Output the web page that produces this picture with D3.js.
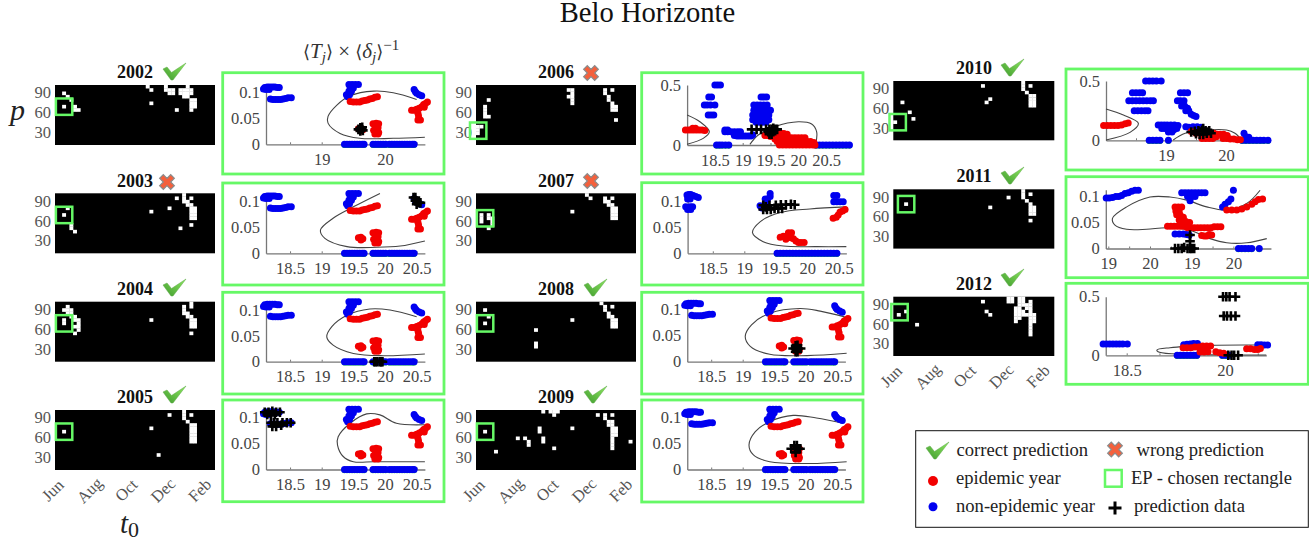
<!DOCTYPE html>
<html><head><meta charset="utf-8">
<style>
html,body{margin:0;padding:0;background:#fff}
svg{display:block}
text{font-family:"Liberation Serif",serif}
</style>
<script src="https://cdn.jsdelivr.net/npm/d3@7"></script>
</head><body>
<svg id="c" width="1309" height="542"></svg>
<script>
// ---- heat-map cells: [row, col, col, ...] white cells
const heat2002=[[0,25,30,36],[1,26,30,31,32,34,35,36,37],[2,2,31,32,34,35,36,37],[3,3,35,36],[4,4,37,38],[5,26,37,38],[6,2,5,37,38],[7,5,6,33,37]];
const heat2003=[[0,35],[1,33,35,37],[2,35,36],[3,36,37],[4,3,31,37,38],[5,26,37,38],[6,2,37,38],[7,37,38],[9,4,37],[10,4,34],[11,5]];
const heat2004=[[0,37],[1,3,35,37],[2,2,3,4,35],[3,3,4,35,36],[4,4,5,36,37],[5,2,5,6,26,37,38],[6,2,6,37,38],[7,5,6,37,38],[8,6],[9,5,37]];
const heat2005=[[0,35],[1,31,35,37],[2,35],[3,36],[4,37,38],[5,26,37,38],[6,2,37,38],[7,37,38],[8,37,38],[9,37,38],[13,28]];
const heat2006=[[1,25,26,35,37],[2,26,35],[3,25,26,36],[4,3,26,36],[5,26,37],[6,2,37,38],[7,2,37,38],[8,2],[9,2,3],[10,38],[12,0,1],[13,0],[14,0]];
const heat2007=[[0,30],[1,31,35,37],[2,35,36],[3,36,37],[4,37,38],[5,26,37,38],[6,1,3,37,38],[7,1,3,4,37,38],[8,1,4],[9,4],[10,3]];
const heat2008=[[0,34],[1,35,37],[2,2,35],[3,36],[4,3,36,37],[5,26,37,38],[6,2,37,38],[7,37,38],[8,16],[12,16],[13,16]];
const heat2009=[[0,18,20,21,22],[1,21,33,35,37],[2,35],[3,36,37],[4,36,37],[5,17,26,37,38],[6,2,17,37,38],[7,37,38],[8,11,13,18,37],[9,14,18,37,42],[10,14,37],[11,21,37],[12,5]];
const heat2010=[[0,35],[1,24,35,37],[2,35],[3,36],[4,37,38],[5,26,37,38],[6,2,25,37,38],[7,37,38],[9,4],[11,5],[12,0]];
const heat2011=[[0,35],[1,35,37],[2,31,35],[3,36],[4,3,37],[5,26,37,38],[6,37,38],[7,37,38],[9,37]];
const heat2012=[[0,31,32,34,35],[1,24,31,32,34,35,37],[2,34,35,36,37],[3,33,34,36,37],[4,3,25,33,34,35,37],[5,1,26,33,34,35,36,37,38],[6,33,34,37,38],[7,33,37,38],[8,6,37],[9,37],[10,37],[11,37]];

// ---- chosen rectangle centres [col, row]
const chosen={2002:[2,6],2003:[2,6],2004:[2,6],2005:[2,6],2006:[0.1,13.2],2007:[2,7],2008:[2,6],2009:[2,6],2010:[0.7,12],2011:[3,4],2012:[1.2,4.2]};

// ---- outcome per year
const outcome={2002:"ok",2003:"no",2004:"ok",2005:"ok",2006:"no",2007:"no",2008:"ok",2009:"ok",2010:"ok",2011:"ok",2012:"ok"};

// ---- shared scatter data used for most years
const nonEpidemicBase=[[18.08,.107],[18.1,.11],[18.14,.111],[18.18,.111],[18.22,.111],[18.26,.111],[18.3,.11],[18.33,.11],[18.12,.106],[18.17,.106],
 [18.19,.088],[18.23,.087],[18.27,.087],[18.31,.087],[18.35,.087],[18.39,.088],[18.43,.089],[18.47,.09],[18.52,.09],
 [19.43,.116],[19.48,.116],[19.53,.116],[19.58,.116],[19.45,.109],[19.5,.109],[19.43,.103],[19.47,.103],[19.39,.096],[19.44,.096],[19.41,.092],
 [20.46,.106],[20.48,.102],[20.5,.099],[20.54,.096],[20.58,.094],
 [19.36,0],[19.4,0],[19.44,0],[19.48,0],[19.52,0],[19.56,0],[19.6,0],[19.64,0],[19.67,0],
 [19.81,0],[19.85,0],[19.89,0],[19.93,0],[19.97,0],[20.01,0],
 [20.07,0],[20.11,0],[20.15,0],[20.19,0],[20.23,0],[20.27,0],[20.31,0],[20.35,0],[20.39,0],[20.43,0],[20.46,0]];
const epidemicBase=[[19.45,.083],[19.5,.082],[19.55,.082],[19.6,.082],[19.64,.084],[19.68,.085],[19.72,.086],[19.76,.088],[19.8,.089],[19.84,.091],[19.88,.092],
 [19.58,.03],[19.62,.031],[19.62,.026],[19.65,.028],
 [19.81,.04],[19.86,.041],[19.9,.04],[19.85,.034],[19.89,.032],[19.82,.027],[19.86,.024],[19.9,.023],[19.84,.02],[19.89,.02],
 [20.42,.066],[20.46,.066],[20.5,.068],[20.54,.07],[20.58,.073],[20.61,.077],[20.64,.079],[20.67,.082],[20.62,.072],[20.52,.06],[20.53,.055],[20.52,.047],[20.56,.047]];

// ---- 2006
const nonEpidemic2006=[[18.5,.5],[18.55,.5],[18.6,.5],[18.39,.4],[18.44,.4],[18.31,.334],[18.36,.334],[18.42,.334],[18.5,.334],[18.38,.25],[18.43,.25],[18.48,.25],
 [18.53,0],[18.58,0],[18.63,0],[18.69,0],[18.75,0],
 [18.68,.125],[18.73,.125],[18.68,.11],[18.73,.11],[18.79,.11],[18.85,.11],[18.91,.11],[18.96,.11],[18.85,.08],[18.9,.075],[18.95,.075],[19,.075],[19.05,.075],[19.1,.075],[19.15,.075],[19.18,.085],
 [19.33,.4],[19.38,.4],[19.43,.4],[19.2,.334],[19.26,.334],[19.32,.334],[19.38,.334],[19.44,.334],[19.2,.29],[19.26,.29],[19.32,.29],[19.38,.29],[19.44,.29],[19.5,.29],
 [19.18,.25],[19.24,.25],[19.3,.25],[19.36,.25],[19.42,.25],[19.47,.25],[19.18,.21],[19.24,.21],[19.3,.21],[19.36,.21],[19.42,.21],[19.47,.21],[19.24,.19],[19.3,.19],[19.36,.19],[19.42,.19],
 [20.32,0],[20.38,0],[20.44,0],[20.5,0],[20.56,0],[20.62,0],[20.68,0],[20.74,0],[20.8,0],[20.86,0],[20.92,0]];
const epidemic2006=[[17.97,.125],[18.02,.125],[18.07,.125],[18.12,.125],[18.17,.125],[18.22,.125],[18.27,.125],[18.32,.12],[18.1,.14],[18.15,.14],
 [19.4,.08],[19.45,.08],[19.5,.07],[19.55,.09],[19.62,.09],[19.68,.1],[19.74,.095],[19.8,.09],
 [19.58,.05],[19.64,.06],[19.7,.06],[19.76,.06],[19.82,.06],[19.88,.06],[19.94,.06],[20,.06],[20.06,.06],[20.12,.06],
 [19.62,.03],[19.68,.03],[19.74,.03],[19.8,.03],[19.86,.03],[19.92,.03],[19.98,.03],[20.04,.03],[20.1,.03],[20.16,.03],[20.22,.03],[20.28,.02],
 [19.66,0],[19.72,0],[19.78,0],[19.84,0],[19.9,0],[19.96,0],[20.02,0],[20.08,0],[20.14,0],[20.2,0],[20.26,0],[20.3,0]];
const predict2006=[[19.16,.13],[19.25,.13],[19.33,.13],[19.42,.13],[19.48,.13],[19.52,.13],[19.58,.13],[19.62,.13],[19.46,.11],[19.5,.11],[19.55,.11],[19.48,.09],[19.52,.09],[19.55,.14]];

// ---- 2007
const nonEpidemic2007=[[18.09,.113],[18.12,.114],[18.15,.114],[18.19,.112],[18.23,.11],[18.27,.108],[18.1,.105],[18.14,.105],[18.07,.09],[18.1,.089],[18.14,.09],[18.18,.09],[18.1,.085],[18.15,.085],
 [19.41,.116],[19.41,.11],[19.33,.105],[19.37,.105],[19.35,.1],[19.25,.092],[19.28,.088],
 [20.42,.112],[20.47,.112],[20.42,.1],[20.47,.1],[20.52,.1],[20.57,.1],
 [19.52,0],[19.57,0],[19.62,0],[19.67,0],[19.72,0],[19.77,0],[19.82,0],[19.87,0],[19.92,0],[19.97,0],[20.02,0],[20.07,0],[20.12,0],[20.17,0],[20.22,0],[20.27,0],[20.32,0],[20.37,0],[20.42,0],[20.47,0]];
const epidemic2007=[[20.41,.068],[20.46,.07],[20.49,.074],[20.52,.08],[20.56,.082],[20.6,.085],[19.57,.031],[19.62,.033],[19.66,.032],[19.66,.027],[19.7,.04],[19.75,.04],[19.7,.033],[19.74,.03],[19.78,.028],[19.82,.024],[19.86,.021],[19.9,.021],[19.95,.021]];
const predict2007=[[19.3,.093],[19.4,.093],[19.5,.093],[19.58,.094],[19.66,.094],[19.74,.095],[19.8,.094],[19.3,.085],[19.36,.085],[19.42,.085],[19.48,.087],[19.54,.087],[19.6,.087],[19.34,.09]];

// ---- 2010
const nonEpidemic2010=[[18.66,.5],[18.72,.5],[18.78,.5],[18.84,.5],[18.92,.5],[18.44,.4],[18.5,.4],[18.56,.4],[18.61,.4],[18.38,.334],[18.44,.334],[18.5,.334],[18.56,.334],[18.62,.334],[18.68,.334],[18.74,.334],[18.79,.334],
 [18.47,.25],[18.53,.25],[18.59,.25],[18.65,.25],[18.7,.25],[18.72,0],[18.78,0],[18.84,0],[18.9,0],[19.04,0],
 [18.87,.13],[18.92,.13],[18.97,.13],[19.02,.13],[19.08,.13],[19.14,.13],[19.2,.125],[18.93,.1],[18.98,.1],[19.03,.1],[19.08,.09],[19.13,.09],[19.18,.1],[19.04,.07],[19.1,.07],
 [19.24,.4],[19.3,.4],[19.36,.4],[19.19,.334],[19.24,.334],[19.3,.334],[19.26,.29],[19.31,.29],[19.36,.27],[19.33,.25],[19.38,.25],[19.42,.22],[19.46,.21],[19.5,.2],
 [19.33,.115],[19.38,.11],[19.45,.115],[19.52,.115],[19.58,.11],[19.6,.09],
 [20.3,.06],[20.33,.03],[20.38,.025],[20.27,0],[20.33,0],[20.39,0],[20.45,0],[20.51,0],[20.57,0],[20.63,0],[20.7,0]];
const epidemic2010=[[17.96,.125],[18.02,.125],[18.08,.125],[18.14,.125],[18.2,.125],[18.26,.13],[18.32,.14],[18.37,.145],
 [19.42,.075],[19.5,.06],[19.62,.05],[19.68,.04],[19.74,.05],[19.8,.06],[19.86,.05],[19.9,.05],[19.96,.05],[20.02,.04],
 [19.6,.015],[19.66,.015],[19.72,.015],[19.78,.015],[19.84,.03],[19.95,.015],[20.01,.015],[20.07,.01],[20.13,.01],[20.19,.005],[20.24,.005]];
const predict2010=[[19.42,.07],[19.48,.075],[19.54,.08],[19.6,.085],[19.66,.08],[19.72,.08],[19.5,.055],[19.56,.05],[19.62,.05],[19.68,.06],[19.75,.06],[19.62,.1]];

// ---- 2011 (the x axis has repeating labels)
const nonEpidemic2011=[[18.95,.097],[19.02,.097],[19.1,.098],[19.18,.1],[19.25,.1],[19.32,.102],[19.4,.106],[19.48,.107],[19.56,.11],[19.64,.112],[19.72,.112],
 [20.76,.107],[20.84,.107],[20.92,.107],[21,.107],[21.08,.107],[21.16,.107],[21.24,.107],[21.32,.107],[20.9,.1],[21,.1],[21.08,.1],[20.96,.092],
 [22,.112],[21.94,.095],[21.88,.09],[21.8,.085],[21.74,.08],
 [20.6,.028],[20.7,.028],[20.8,.028],[20.88,.027],[20.94,.026],
 [22.12,0],[22.2,0],[22.28,0],[22.36,0],[22.44,0],[22.62,0]];
const epidemic2011=[[21.84,.074],[21.96,.074],[22.08,.074],[22.2,.076],[22.32,.08],[22.44,.085],[22.52,.09],[22.6,.094],[22.7,.095],
 [20.6,.08],[20.68,.08],[20.76,.08],[20.62,.072],[20.7,.072],[20.64,.065],[20.72,.065],[20.8,.06],[20.7,.055],[20.78,.052],[20.86,.052],[20.95,.05],
 [20.42,.043],[20.5,.043],[20.58,.043],[20.66,.043],[20.74,.043],[20.82,.043],[20.9,.04],[20.98,.04],[21.06,.04],[21.14,.04],[21.22,.04],[21.3,.04],[21.38,.04],[21.46,.04],[21.54,.042],[21.62,.042],[21.7,.042],
 [21.24,.025],[21.3,.024],[21.36,.024],[21.42,.027],[21.48,.026]];
const predict2011=[[20.6,0],[20.68,0],[20.76,0],[20.82,.002],[20.9,0],[20.96,0],[21,0],[21.06,0],[20.96,.014],[20.96,.026]];

// ---- 2012
const nonEpidemic2012=[[18.14,.097],[18.19,.097],[18.24,.097],[18.29,.097],[18.34,.097],[18.39,.097],[18.44,.097],[18.51,.097],
 [19.37,.09],[19.42,.094],[19.47,.097],[19.52,.1],[19.58,.1],[19.27,0],[19.32,0],[19.37,0],[19.42,0],[19.47,0],[19.52,0],[19.57,0],[19.96,0],[20.01,0],[20.06,0],
 [20.5,.09],[20.55,.09],[20.6,.088],[20.65,.088]];
const epidemic2012=[[19.36,.065],[19.42,.065],[19.48,.065],[19.54,.07],[19.6,.07],[19.66,.08],[19.72,.08],[19.78,.08],[19.62,.05],[19.68,.05],[19.62,.028],[19.68,.028],[19.74,.03],[19.86,.03],[19.92,.022],[19.98,.018],
 [20.33,.055],[20.39,.055],[20.45,.05],[20.5,.05],[20.54,.058]];
const predict2012=[[19.97,.5],[20.02,.5],[20.07,.5],[20.16,.5],[19.98,.335],[20.03,.335],[20.09,.335],[20.16,.335],[20.05,0],[20.1,0],[20.14,0],[20.2,0]];

// ---- held-out prediction data
const predict2002=[[19.58,.029],[19.61,.032],[19.63,.03],[19.65,.027],[19.61,.026],[19.64,.033]];
const predict2003=[[20.45,.108],[20.48,.108],[20.48,.102],[20.51,.1],[20.54,.098],[20.56,.098],[20.5,.095]];
const predict2004=[[19.83,0],[19.85,0],[19.88,0],[19.92,0],[19.94,0],[19.96,0]];
const predict2005=[[18.1,.11],[18.16,.11],[18.22,.112],[18.28,.11],[18.34,.11],[18.14,.106],[18.2,.104],[18.26,.106],
 [18.2,.09],[18.25,.09],[18.3,.09],[18.38,.09],[18.45,.09],[18.51,.09],[18.22,.083],[18.28,.083],[18.36,.085]];
const predict2008=[[19.8,.025],[19.84,.025],[19.88,.025],[19.92,.025],[19.84,.03],[19.87,.031],[19.84,.019],[19.87,.019]];
const predict2009=[[19.77,.04],[19.83,.04],[19.88,.04],[19.91,.04],[19.82,.046],[19.86,.046],[19.84,.033]];

// ---- decision boundary curves, as [x, y]
const boundary2002=[[[20.63,.0136],[20.13,.0116],[19.6,.0116],[19.29,.021],[19.1,.041],[19.1,.054],[19.24,.076],[19.45,.094],[19.82,.103],[20.13,.1],[20.5,.087]]];
const boundary2003=[[[19.92,.116],[19.5,.09],[19.18,.068],[18.98,.045],[19.05,.029],[19.4,.013],[19.87,.0116],[20.24,.014],[20.63,.024]]];
const boundary2004=[[[20.63,.015],[19.97,.0116],[19.5,.016],[19.18,.032],[19.08,.048],[19.16,.068],[19.4,.09],[19.76,.102],[20.08,.1],[20.5,.087]]];
const boundary2005=[[[20.63,.015],[20.24,.015],[19.82,.015],[19.5,.015],[19.34,.025],[19.25,.047],[19.26,.063],[19.45,.089],[19.71,.107],[19.92,.105],[20.18,.089],[20.63,.086]]];
const boundary2006=[[[18,.25],[18.23,.194],[18.4,.11],[18.29,.055],[18,.006]],[[19.13,.005],[19.28,.083],[19.58,.153],[20,.194],[20.24,.175],[20.33,.11],[20.31,0]]];
const boundary2007=[[[20.62,.0129],[20.15,.0129],[19.62,.014],[19.3,.0226],[19.13,.04],[19.25,.061],[19.57,.079],[20.04,.086],[20.62,.09]]];
const boundary2008=[[[20.65,.016],[20.02,.0116],[19.43,.014],[19.12,.029],[19.04,.048],[19.14,.07],[19.43,.092],[19.91,.101],[20.23,.096],[20.62,.085]]];
const boundary2009=[[[20.65,.015],[20.07,.0116],[19.43,.015],[19.17,.028],[19.1,.047],[19.2,.073],[19.43,.092],[19.8,.104],[20.17,.099],[20.6,.089]]];
const boundary2010=[[[18,.264],[18.29,.213],[18.54,.143],[18.4,.067],[18,.003]],[[19.12,.003],[19.32,.059],[19.68,.087],[20.01,.087],[20.15,.059],[20.26,.003]]];
const boundary2011=[[[22.64,.112],[22.32,.0865],[21.84,.074],[21.36,.08],[20.88,.093],[20.48,.099],[20,.099],[19.44,.08],[19.1,.058],[19.16,.045],[19.44,.037],[19.92,.037],[20.4,.04],[20.96,.035],[21.44,.019],[21.84,.011],[22.32,.011],[22.8,.019]]];
const boundary2012=[[[20.63,.003],[20,.003],[19.41,.0085],[19,.026],[18.96,.045],[19.16,.065],[19.77,.085],[20.48,.088]]];

const monthLabels=["Jun","Aug","Oct","Dec","Feb"];

// ---- tick label sets
const xTicksFull=[18.5,19,19.5,20,20.5];
const yTicksSmall=[0,.05,.1];
const yTicksLarge=[0,.5];

const heatsByYear={2002:heat2002,2003:heat2003,2004:heat2004,2005:heat2005,2006:heat2006,2007:heat2007,2008:heat2008,2009:heat2009,2010:heat2010,2011:heat2011,2012:heat2012};

// layout only
const GREEN="#66f866";
const L=[
 {y:2002,hx:55,hy:85,hh:60,px:[222.7,72.7,444,174],ax:[18.12,20.63],x0:[19,321.7],x1:[20,385],ya:[144.3,92.7,.1],n:nonEpidemicBase,e:epidemicBase,p:predict2002,b:boundary2002,tl:[19,20],yl:yTicksSmall,top:.113,lx:135,ly:78,ix:163,iy:63},
 {y:2003,hx:55,hy:193.3,hh:60,px:[222.7,183,444,285],ax:[18.12,20.63],x0:[19,321.7],x1:[20,385],ya:[253.3,201.7,.1],n:nonEpidemicBase,e:epidemicBase,p:predict2003,b:boundary2003,tl:xTicksFull,yl:yTicksSmall,top:.113,lx:135,ly:187,ix:167,iy:182,},
 {y:2004,hx:55,hy:301.7,hh:60,px:[222.7,292.3,444,394],ax:[18.12,20.63],x0:[19,321.7],x1:[20,385],ya:[361.7,310,.1],n:nonEpidemicBase,e:epidemicBase,p:predict2004,b:boundary2004,tl:xTicksFull,yl:yTicksSmall,top:.113,lx:135,ly:295,ix:163,iy:279},
 {y:2005,hx:55,hy:410,hh:60,px:[222.7,400,444,501.7],ax:[18.12,20.63],x0:[19,321.7],x1:[20,385],ya:[469.5,417.5,.1],n:nonEpidemicBase,e:epidemicBase,p:predict2005,b:boundary2005,tl:xTicksFull,yl:yTicksSmall,top:.113,lx:135,ly:403,ix:163,iy:386},
 {y:2006,hx:476,hy:85,hh:60,px:[641.7,72.7,863,174],ax:[18,20.93],x0:[19,742.7],x1:[20,798.3],ya:[145,85,.5],n:nonEpidemic2006,e:epidemic2006,p:predict2006,b:boundary2006,tl:xTicksFull,yl:yTicksLarge,top:.5,lx:556,ly:78,ix:591,iy:73},
 {y:2007,hx:476,hy:193.3,hh:60,px:[641.7,182.7,863,285],ax:[18.1,20.62],x0:[19,744.3],x1:[20,807.3],ya:[253.3,201.7,.1],n:nonEpidemic2007,e:epidemic2007,p:predict2007,b:boundary2007,tl:xTicksFull,yl:yTicksSmall,top:.113,lx:556,ly:187,ix:591,iy:181},
 {y:2008,hx:476,hy:301.7,hh:60,px:[641.7,292.3,863,394],ax:[18.12,20.63],x0:[19,742.7],x1:[20,805.7],ya:[361.7,309,.1],n:nonEpidemicBase,e:epidemicBase,p:predict2008,b:boundary2008,tl:xTicksFull,yl:yTicksSmall,top:.113,lx:556,ly:295,ix:584,iy:279},
 {y:2009,hx:476,hy:410,hh:60,px:[641.7,400,863,502],ax:[18.12,20.63],x0:[19,742.7],x1:[20,805.7],ya:[469.5,417.5,.1],n:nonEpidemicBase,e:epidemicBase,p:predict2009,b:boundary2009,tl:xTicksFull,yl:yTicksSmall,top:.113,lx:556,ly:403,ix:584,iy:386},
 {y:2010,hx:893.3,hy:81,hh:59.3,px:[1066,69,1308.3,170],ax:[18,20.7],x0:[19,1166],x1:[20,1226],ya:[140.3,81,.5],n:nonEpidemic2010,e:epidemic2010,p:predict2010,b:boundary2010,tl:[19,20],yl:yTicksLarge,top:.5,lx:974,ly:74,ix:1001,iy:59},
 {y:2011,hx:893.3,hy:189.3,hh:59.3,px:[1066,176.7,1308.3,277.7],ax:[18.94,22.9],x0:[19,1108.3],x1:[20,1150],ya:[248.5,196.5,.1],n:nonEpidemic2011,e:epidemic2011,p:predict2011,b:boundary2011,tl:[19,20,21,22],xl:["19","20","19","20"],yl:yTicksSmall,top:.113,lx:974,ly:182,ix:1001,iy:167},
 {y:2012,hx:893.3,hy:296.7,hh:59.3,px:[1066,283.3,1308.3,384.3],ax:[18.18,20.63],x0:[18.5,1126.7],x1:[20,1225],ya:[355.3,296.7,.5],n:nonEpidemic2012,e:epidemic2012,p:predict2012,b:boundary2012,tl:[18.5,20],yl:yTicksLarge,top:.5,lx:974,ly:290,ix:1001,iy:269}
];

const svg=d3.select("#c");
const defs=svg.append("defs");
const lg=defs.append("linearGradient").attr("id","chk").attr("x1",0).attr("y1",1).attr("x2",1).attr("y2",0);
lg.append("stop").attr("offset","0%").attr("stop-color","#3f9a2e");
lg.append("stop").attr("offset","100%").attr("stop-color","#8ee860");

const CHECK="M0,6 L4,4 L8.5,9.5 L23,0 L10,17 L8,17 Z";
function drawCheck(g,x,y){g.append("path").attr("d",CHECK).attr("transform",`translate(${x},${y})`).attr("fill","url(#chk)").attr("stroke","#5ea84a").attr("stroke-width",.5);}
const crossPath=d3.symbol().type(d3.symbolCross).size(135)();
function drawCross(g,x,y){g.append("path").attr("d",crossPath).attr("transform",`translate(${x},${y}) rotate(45)`).attr("fill","#f4603c").attr("stroke","#8a8a8a").attr("stroke-width",1.2);}
const PLUS="M-4.8,0H4.8M0,-4.8V4.8";

svg.append("text").attr("x",647.5).attr("y",22).attr("text-anchor","middle").attr("font-size",28.6).attr("fill","#111").text("Belo Horizonte");

const line=d3.line().curve(d3.curveCatmullRom.alpha(.5));

L.forEach(d=>{
  const g=svg.append("g");
  // heatmap
  const hw=d.hx==893.3?161:160;
  const xCell=d3.scaleBand().domain(d3.range(44)).range([d.hx,d.hx+hw]);
  const yCell=d3.scaleBand().domain(d3.range(18)).range([d.hy,d.hy+d.hh]);
  g.append("rect").attr("x",d.hx).attr("y",d.hy).attr("width",hw).attr("height",d.hh).attr("fill","#000");
  const cells=heatsByYear[d.y].flatMap(r=>r.slice(1).map(c=>({c,r:r[0]})));
  g.selectAll(".cell").data(cells).enter().append("rect").attr("x",e=>xCell(e.c)-.15).attr("y",e=>yCell(e.r)-.15).attr("width",xCell.bandwidth()+.3).attr("height",yCell.bandwidth()+.3).attr("fill","#fff");
  // p axis
  const py=d3.scaleLinear().domain([11,101.5]).range([d.hy+d.hh,d.hy]);
  const pa=g.append("g").attr("transform",`translate(${d.hx},0)`).call(d3.axisLeft(py).tickValues([30,60,90]).tickSize(0).tickPadding(4));
  pa.select(".domain").remove();
  pa.selectAll("text").attr("font-size",16.5).attr("fill","#555").attr("font-family","Liberation Serif");
  // chosen rectangle
  const [cc,cr]=chosen[d.y];
  const cw=xCell.step(),ch=yCell.step();
  const bx=d.hx+(cc+.5)*cw, by=d.hy+(cr+.5)*ch;
  g.append("rect").attr("x",bx-8.2).attr("y",by-8.2).attr("width",16.4).attr("height",16.4).attr("fill","none").attr("stroke",GREEN).attr("stroke-width",2.5);
  // year label
  g.append("text").attr("x",d.lx).attr("y",d.ly).attr("text-anchor","middle").attr("font-weight","bold").attr("font-size",18).attr("fill","#111").text(d.y);
  if(outcome[d.y]==="ok") drawCheck(g,d.ix,d.iy); else drawCross(g,d.ix,d.iy);
  // panel frame
  const [a,b,c2,e]=d.px;
  g.append("rect").attr("x",a).attr("y",b).attr("width",c2-a).attr("height",e-b).attr("fill","#fff").attr("stroke",GREEN).attr("stroke-width",2.8);
  // scales
  const xs=d3.scaleLinear().domain([d.x0[0],d.x1[0]]).range([d.x0[1],d.x1[1]]);
  const x=xs.copy().domain(d.ax).range(d.ax.map(xs));
  const ys=d3.scaleLinear().domain([0,d.ya[2]]).range([d.ya[0],d.ya[1]]);
  const y=ys.copy().domain([0,d.top]).range([ys(0),ys(d.top)]);
  // axes
  const labelled=d.tl;
  const allTicks=d3.range(Math.ceil(d.ax[0]*2)/2,d.ax[1],.5);
  const ax=g.append("g").attr("transform",`translate(0,${y(0)})`).call(d3.axisBottom(x).tickValues(allTicks).tickSizeInner(-2).tickSizeOuter(0).tickPadding(9)
     .tickFormat(v=>{const i=labelled.indexOf(v);return i<0?"":(d.xl?d.xl[i]:String(v));}));
  const ay=g.append("g").attr("transform",`translate(${x(d.ax[0])},0)`).call(d3.axisLeft(y).tickValues(d.yl).tickSizeInner(0).tickSizeOuter(0).tickPadding(6).tickFormat(v=>String(v)));
  [ax,ay].forEach(s=>{
    s.select(".domain").attr("stroke","#777").attr("stroke-width",1.3);
    s.selectAll(".tick line").attr("stroke","#777");
    s.selectAll("text").attr("font-size",16.5).attr("fill","#444").attr("font-family","Liberation Serif");
  });
  // boundary
  g.selectAll(".bd").data(d.b).enter().append("path").attr("d",s=>line(s.map(q=>[x(q[0]),y(q[1])]))).attr("fill","none").attr("stroke","#444").attr("stroke-width",1.1);
  // points
  const zeroPts=d.n.filter(q=>q[1]===0);
  g.selectAll(".gr").data(zeroPts).enter().append("circle").attr("cx",q=>x(q[0])).attr("cy",q=>y(0)+1).attr("r",2.8).attr("fill","#22b84a");
  g.selectAll(".nb").data(d.n).enter().append("circle").attr("cx",q=>x(q[0])).attr("cy",q=>y(q[1])).attr("r",3.5).attr("fill","#0000f0");
  g.selectAll(".ep").data(d.e).enter().append("circle").attr("cx",q=>x(q[0])).attr("cy",q=>y(q[1])).attr("r",3.5).attr("fill","#f20000");
  g.selectAll(".pr").data(d.p).enter().append("path").attr("d",PLUS).attr("transform",q=>`translate(${x(q[0])},${y(q[1])})`).attr("stroke","#000").attr("stroke-width",2.6).attr("fill","none");
});

// month labels
[[55,491.5],[476,491.5],[893.3,377.5]].forEach(([hx,ty])=>{
  const m=d3.scalePoint().domain(monthLabels).range([hx-1,hx+146]);
  monthLabels.forEach(t=>{
    const tx=m(t);
    svg.append("text").attr("transform",`translate(${tx},${ty}) rotate(-45)`).attr("text-anchor","middle").attr("dominant-baseline","middle").attr("font-size",16.5).attr("fill","#555").text(t);
  });
});

// big axis captions
svg.append("text").attr("x",10).attr("y",120).attr("font-style","italic").attr("font-size",30).attr("fill","#222").text("p");
const t0=svg.append("text").attr("x",120).attr("y",533).attr("font-style","italic").attr("font-size",29).attr("fill","#222").text("t");
t0.append("tspan").attr("font-style","normal").attr("font-size",22).attr("dy",4).text("0");
const ft=svg.append("text").attr("x",303).attr("y",58).attr("font-size",21).attr("fill","#333");
const br={"font-family":"DejaVu Serif","font-size":18};
function bracket(s,t,dy){const n=ft.append("tspan").attr("font-family",br["font-family"]).attr("font-size",br["font-size"]).text(t);if(dy)n.attr("dy",dy);}
bracket(ft,"⟨");
ft.append("tspan").attr("font-style","italic").text("T");
ft.append("tspan").attr("font-style","italic").attr("font-size",15).attr("dy",4).text("j");
bracket(ft,"⟩",-4);
ft.append("tspan").text(" × ");
bracket(ft,"⟨");
ft.append("tspan").attr("font-style","italic").text("δ");
ft.append("tspan").attr("font-style","italic").attr("font-size",15).attr("dy",4).text("j");
bracket(ft,"⟩",-4);
ft.append("tspan").attr("font-size",15).attr("dy",-8).text("−1");

// legend
const lgd=svg.append("g");
lgd.append("rect").attr("x",915.7).attr("y",430.7).attr("width",392.6).attr("height",96.6).attr("fill","#fff").attr("stroke","#111").attr("stroke-width",1);
drawCheck(lgd,926,442);
drawCross(lgd,1115,449.5);
lgd.append("circle").attr("cx",933).attr("cy",481).attr("r",5).attr("fill","#f20000");
lgd.append("circle").attr("cx",933).attr("cy",506.7).attr("r",4.5).attr("fill","#0000f0");
lgd.append("rect").attr("x",1105).attr("y",470).attr("width",16.7).attr("height",16.7).attr("fill","none").attr("stroke",GREEN).attr("stroke-width",2.5);
lgd.append("path").attr("d","M-6.5,0H6.5M0,-6.5V6.5").attr("transform","translate(1115,508)").attr("stroke","#000").attr("stroke-width",3);
[["correct prediction",956.5,455.5],["wrong prediction",1136.5,455.5],["epidemic year",956,484],["EP - chosen rectangle",1131,484],["non-epidemic year",956,512],["prediction data",1134,512]]
 .forEach(([t,tx,ty])=>lgd.append("text").attr("x",tx).attr("y",ty).attr("font-size",18.6).attr("fill","#222").text(t));
</script>
</body></html>
